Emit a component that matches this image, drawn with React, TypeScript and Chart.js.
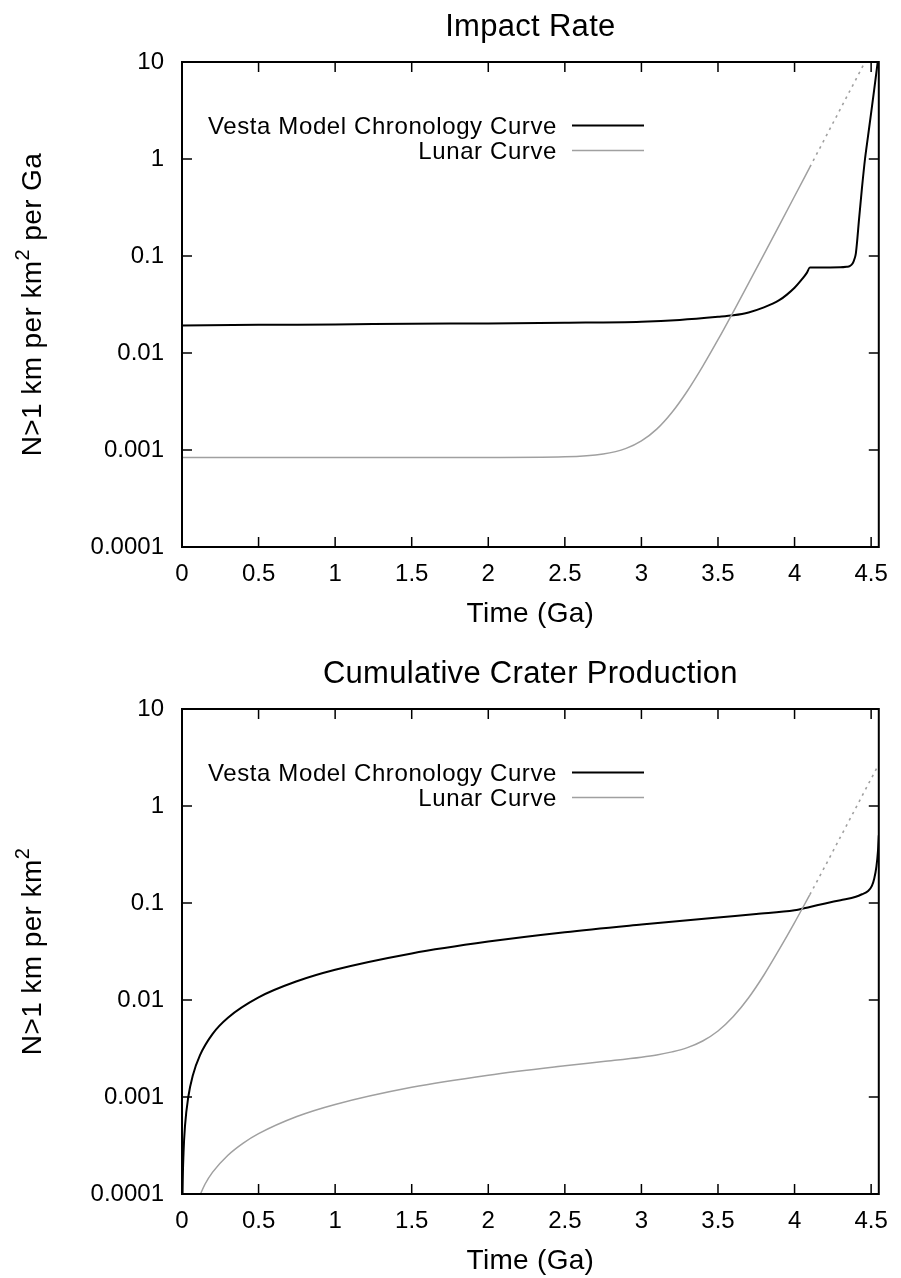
import React, { useEffect, useRef } from "react";
import { Chart, registerables } from "chart.js";

Chart.register(...registerables);

// ---------- axis ticks ----------
const xTickValues = [0, 0.5, 1, 1.5, 2, 2.5, 3, 3.5, 4, 4.5];
const xTickLabels = ["0", "0.5", "1", "1.5", "2", "2.5", "3", "3.5", "4", "4.5"];
const yTickValues = [0.0001, 0.001, 0.01, 0.1, 1, 10];
const yTickLabels = ["0.0001", "0.001", "0.01", "0.1", "1", "10"];
const xRange = [0, 4.55];
const yRange = [0.0001, 10];

const legendLabels = ["Vesta Model Chronology Curve", "Lunar Curve"];
const xAxisTitle = "Time (Ga)";

// ---------- Impact rate (top) ----------
const vestaRateTime = [0, 0.5, 1.0, 1.5, 2.0, 2.5, 3.0, 3.25, 3.5, 3.6, 3.7, 3.8, 3.9, 3.95, 4.0, 4.05, 4.08, 4.1, 4.2, 4.3, 4.34, 4.36, 4.38, 4.39, 4.4, 4.41, 4.42, 4.44, 4.46, 4.48, 4.5, 4.52, 4.543, 4.55];
const vestaRateValue = [0.0192, 0.0195, 0.0197, 0.02, 0.0202, 0.0205, 0.021, 0.0219, 0.0236, 0.0245, 0.0262, 0.0295, 0.035, 0.04, 0.047, 0.058, 0.067, 0.076, 0.0762, 0.0765, 0.0775, 0.0785, 0.084, 0.092, 0.106, 0.15, 0.23, 0.5, 1.0, 1.73, 2.99, 5.18, 10, 12];

const lunarRateTime = [0, 0.5, 1, 1.5, 2, 2.5, 2.75, 2.9, 3, 3.1, 3.2, 3.3, 3.4, 3.5, 3.6, 3.7, 3.8, 3.9, 4, 4.1];
const lunarRateValue = [0.000838, 0.000838, 0.000838, 0.000838, 0.000838, 0.000851, 0.00091, 0.00104, 0.00124, 0.00164, 0.00245, 0.00406, 0.00728, 0.0137, 0.0266, 0.0524, 0.1039, 0.2069, 0.4129, 0.8249];

const lunarRateExtTime = [4.1, 4.2, 4.3, 4.4, 4.5];
const lunarRateExtValue = [0.8249, 1.65, 3.3, 6.6, 13.2];

// ---------- Cumulative crater production (bottom) ----------
const vestaCumTime = [0.001, 0.004, 0.01, 0.02, 0.041, 0.07, 0.117, 0.2, 0.3, 0.5, 0.75, 1.0, 1.5, 2.0, 2.5, 3.0, 3.5, 3.75, 4.0, 4.1, 4.2, 4.3, 4.4, 4.44, 4.48, 4.505, 4.52, 4.534, 4.545, 4.55];
const vestaCumValue = [0.00003, 0.00011, 0.000265, 0.000513, 0.001, 0.00166, 0.00269, 0.00448, 0.00657, 0.01064, 0.0156, 0.0205, 0.0302, 0.04, 0.05, 0.06, 0.071, 0.077, 0.084, 0.091, 0.099, 0.107, 0.116, 0.123, 0.133, 0.15, 0.178, 0.234, 0.35, 0.5];

const lunarCumTime = [0.1, 0.15, 0.2, 0.3, 0.4, 0.5, 0.75, 1.0, 1.5, 2.0, 2.5, 2.75, 3.0, 3.1, 3.2, 3.3, 3.4, 3.5, 3.6, 3.7, 3.8, 3.9, 4.0, 4.1];
const lunarCumValue = [0.0000838, 0.000126, 0.000168, 0.000251, 0.000335, 0.000419, 0.000629, 0.000838, 0.00126, 0.00168, 0.0021, 0.00232, 0.00257, 0.00271, 0.00292, 0.00323, 0.00378, 0.00479, 0.00675, 0.01055, 0.0181, 0.0332, 0.0628, 0.122];

const lunarCumExtTime = [4.1, 4.2, 4.3, 4.4, 4.5, 4.55];
const lunarCumExtValue = [0.122, 0.241, 0.48, 0.956, 1.908, 2.69];

// ---------- styling ----------
const FONT = "'Liberation Sans', Arial, Helvetica, sans-serif";
const BLACK = "#000000";
const GRAY = "#a0a0a0";

type Piece = { text: string; sup?: boolean };

const zip = (xs: number[], ys: number[]) => xs.map((x, i) => ({ x, y: ys[i] }));

function setSpacing(ctx: any, px: number) {
  if ("letterSpacing" in ctx) ctx.letterSpacing = px + "px";
}

function overlayPlugin(title: string, yTitle: Piece[]) {
  return {
    id: "gnuplotOverlay",
    afterDatasetsDraw(chart: any) {
      const { ctx, chartArea: a, scales } = chart;
      const xs = scales.x;
      const ys = scales.y;
      ctx.save();
      // frame
      ctx.strokeStyle = BLACK;
      ctx.lineWidth = 2;
      ctx.strokeRect(a.left, a.top, a.right - a.left, a.bottom - a.top);
      // inward ticks on all four sides
      ctx.lineWidth = 1.5;
      const TL = 10;
      ctx.beginPath();
      xTickValues.forEach((v) => {
        const px = xs.getPixelForValue(v);
        ctx.moveTo(px, a.bottom);
        ctx.lineTo(px, a.bottom - TL);
        ctx.moveTo(px, a.top);
        ctx.lineTo(px, a.top + TL);
      });
      yTickValues.forEach((v) => {
        const py = ys.getPixelForValue(v);
        ctx.moveTo(a.left, py);
        ctx.lineTo(a.left + TL, py);
        ctx.moveTo(a.right, py);
        ctx.lineTo(a.right - TL, py);
      });
      ctx.stroke();

      const cx = (a.left + a.right) / 2;
      const cy = (a.top + a.bottom) / 2;
      ctx.fillStyle = BLACK;

      // title
      ctx.font = `31px ${FONT}`;
      setSpacing(ctx, 0.3);
      ctx.textAlign = "center";
      ctx.textBaseline = "alphabetic";
      ctx.fillText(title, cx, a.top - 26);

      // x axis title
      ctx.font = `28px ${FONT}`;
      setSpacing(ctx, 0.3);
      ctx.fillText(xAxisTitle, cx, a.bottom + 75);

      // y axis title (rotated, with superscript)
      const mainSize = 28;
      const supSize = 20;
      setSpacing(ctx, 0.4);
      const widths = yTitle.map((p) => {
        ctx.font = `${p.sup ? supSize : mainSize}px ${FONT}`;
        return ctx.measureText(p.text).width;
      });
      const total = widths.reduce((s, w) => s + w, 0);
      ctx.save();
      ctx.translate(41, cy);
      ctx.rotate(-Math.PI / 2);
      ctx.textAlign = "left";
      let x0 = -total / 2;
      yTitle.forEach((p, i) => {
        ctx.font = `${p.sup ? supSize : mainSize}px ${FONT}`;
        ctx.fillText(p.text, x0, p.sup ? -12 : 0);
        x0 += widths[i];
      });
      ctx.restore();

      // legend (gnuplot style: text right-aligned, sample to the right)
      ctx.font = `24px ${FONT}`;
      setSpacing(ctx, 0.6);
      ctx.textAlign = "right";
      const rows = [
        { label: legendLabels[0], color: BLACK, width: 2, y: a.top + 63.5 },
        { label: legendLabels[1], color: GRAY, width: 1.5, y: a.top + 88.5 },
      ];
      rows.forEach((r) => {
        ctx.fillStyle = BLACK;
        ctx.fillText(r.label, 557, r.y + 8.5);
        ctx.strokeStyle = r.color;
        ctx.lineWidth = r.width;
        ctx.beginPath();
        ctx.moveTo(572, r.y);
        ctx.lineTo(644, r.y);
        ctx.stroke();
      });
      ctx.restore();
    },
  };
}

function makeConfig(opts: {
  height: number;
  title: string;
  yTitle: Piece[];
  vesta: { x: number; y: number }[];
  lunar: { x: number; y: number }[];
  lunarExt: { x: number; y: number }[];
}): any {
  const lineBase = {
    pointRadius: 0,
    pointHoverRadius: 0,
    fill: false,
    cubicInterpolationMode: "monotone",
  };
  return {
    type: "line",
    data: {
      datasets: [
        { ...lineBase, label: legendLabels[1] + " (extrapolated)", data: opts.lunarExt, borderColor: GRAY, borderWidth: 1.6, borderDash: [2.5, 4.5] },
        { ...lineBase, label: legendLabels[1], data: opts.lunar, borderColor: GRAY, borderWidth: 1.5 },
        { ...lineBase, label: legendLabels[0], data: opts.vesta, borderColor: BLACK, borderWidth: 2 },
      ],
    },
    options: {
      responsive: false,
      animation: false,
      devicePixelRatio: 1,
      events: [],
      layout: { padding: { left: 0, top: 62, right: 17, bottom: 0 } },
      plugins: {
        legend: { display: false },
        title: { display: false },
        tooltip: { enabled: false },
      },
      scales: {
        x: {
          type: "linear",
          min: xRange[0],
          max: xRange[1],
          grid: { display: false, drawTicks: false },
          border: { display: false },
          afterBuildTicks: (s: any) => {
            s.ticks = xTickValues.map((v) => ({ value: v }));
          },
          afterFit: (s: any) => {
            s.height = opts.height - 547;
          },
          ticks: {
            autoSkip: false,
            maxRotation: 0,
            minRotation: 0,
            padding: 13,
            color: BLACK,
            font: { family: FONT, size: 24 },
            callback: (_v: any, i: number) => xTickLabels[i],
          },
        },
        y: {
          type: "logarithmic",
          min: yRange[0],
          max: yRange[1],
          grid: { display: false, drawTicks: false },
          border: { display: false },
          afterBuildTicks: (s: any) => {
            s.ticks = yTickValues.map((v) => ({ value: v }));
          },
          afterFit: (s: any) => {
            s.width = 182;
          },
          ticks: {
            autoSkip: false,
            padding: 18,
            color: BLACK,
            font: { family: FONT, size: 24 },
            callback: (_v: any, i: number) => yTickLabels[i],
          },
        },
      },
    },
    plugins: [overlayPlugin(opts.title, opts.yTitle)],
  };
}

function ChartCanvas({ config, width, height, top }: { config: any; width: number; height: number; top: number }) {
  const ref = useRef<HTMLCanvasElement | null>(null);
  useEffect(() => {
    if (!ref.current) return;
    const chart = new Chart(ref.current, config);
    return () => chart.destroy();
  }, [config]);
  return (
    <canvas
      ref={ref}
      width={width}
      height={height}
      style={{ position: "absolute", left: 0, top, width, height, display: "block" }}
    />
  );
}

const topConfig = makeConfig({
  height: 647,
  title: "Impact Rate",
  yTitle: [{ text: "N>1 km per km" }, { text: "2", sup: true }, { text: " per Ga" }],
  vesta: zip(vestaRateTime, vestaRateValue),
  lunar: zip(lunarRateTime, lunarRateValue),
  lunarExt: zip(lunarRateExtTime, lunarRateExtValue),
});

const bottomConfig = makeConfig({
  height: 631,
  title: "Cumulative Crater Production",
  yTitle: [{ text: "N>1 km per km" }, { text: "2", sup: true }],
  vesta: zip(vestaCumTime, vestaCumValue),
  lunar: zip(lunarCumTime, lunarCumValue),
  lunarExt: zip(lunarCumExtTime, lunarCumExtValue),
});

export default function App() {
  return (
    <div
      style={{
        position: "absolute",
        left: 0,
        top: 0,
        width: 901,
        height: 1278,
        overflow: "hidden",
        background: "#ffffff",
      }}
    >
      <ChartCanvas config={topConfig} width={901} height={647} top={0} />
      <ChartCanvas config={bottomConfig} width={901} height={631} top={647} />
    </div>
  );
}
